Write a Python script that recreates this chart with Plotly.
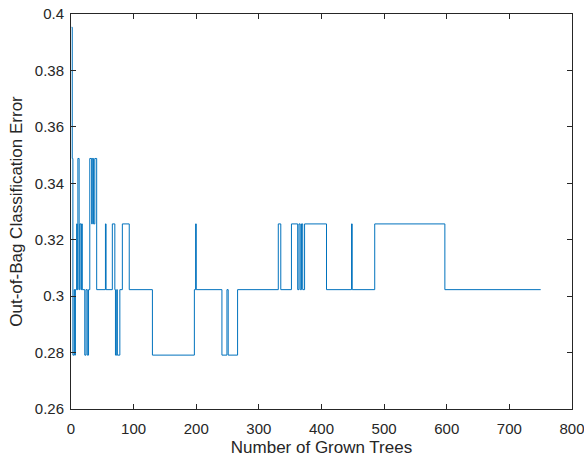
import plotly.graph_objects as go

# Breakpoints: tree index where the OOB error changes, and the new error value
change_trees = [1, 2, 3, 5, 6, 7, 9, 10, 11, 13, 14, 16, 17, 18, 22, 24, 26, 28,
                30, 33, 34, 36, 38, 41, 55, 56, 66, 70, 71, 73, 74, 78, 82, 93,
                130, 197, 199, 200, 241, 249, 251, 266, 331, 335, 352, 362, 364,
                366, 368, 370, 373, 408, 448, 449, 485, 597, 750]
error_values = [0.3953, 0.3488, 0.2791, 0.3023, 0.2791, 0.3023, 0.3256, 0.3023,
                0.3488, 0.3023, 0.3256, 0.3023, 0.3256, 0.3023, 0.2791, 0.3023,
                0.2791, 0.3023, 0.3488, 0.3256, 0.3488, 0.3256, 0.3488, 0.3023,
                0.3256, 0.3023, 0.3256, 0.3023, 0.2791, 0.3023, 0.2791, 0.3023,
                0.3256, 0.3023, 0.2791, 0.3023, 0.3256, 0.3023, 0.2791, 0.3023,
                0.2791, 0.3023, 0.3256, 0.3023, 0.3256, 0.3023, 0.3256, 0.3023,
                0.3256, 0.3023, 0.3256, 0.3023, 0.3256, 0.3023, 0.3256, 0.3023,
                0.3023]

x_ticks = [0, 100, 200, 300, 400, 500, 600, 700, 800]
y_ticks = [0.26, 0.28, 0.30, 0.32, 0.34, 0.36, 0.38, 0.40]
y_tick_labels = ["0.26", "0.28", "0.3", "0.32", "0.34", "0.36", "0.38", "0.4"]

axis_color = "#262626"
font_family = "Liberation Sans, Arial, sans-serif"

fig = go.Figure()
fig.add_trace(go.Scatter(
    x=change_trees, y=error_values, mode="lines",
    line=dict(color="#0072BD", width=1, shape="hv"),
    showlegend=False, hoverinfo="skip",
))

common = dict(
    showline=True, linecolor=axis_color, linewidth=1, mirror="ticks",
    ticks="inside", ticklen=5, tickcolor=axis_color, tickwidth=1,
    showgrid=False, zeroline=False, automargin=False,
    ticklabeloverflow="allow",
    tickfont=dict(family=font_family, size=15, color=axis_color),
)

fig.update_layout(
    width=584, height=460,
    margin=dict(l=71, r=12, t=14, b=51),
    paper_bgcolor="white", plot_bgcolor="white",
    font=dict(family=font_family, color=axis_color),
    xaxis=dict(range=[0, 800], tickvals=x_ticks,
               title=dict(text="Number of Grown Trees",
                          font=dict(family=font_family, size=17, color=axis_color),
                          standoff=5),
               ticklabelstandoff=6, **common),
    yaxis=dict(range=[0.26, 0.40], tickvals=y_ticks, ticktext=y_tick_labels,
               title=dict(text="Out-of-Bag Classification Error",
                          font=dict(family=font_family, size=17, color=axis_color),
                          standoff=7),
               ticklabelstandoff=3, **common),
)

# remove the browser's default 8px body margin so the figure fills the window
fig.write_html("out.html",
               config={"displayModeBar": False},
               post_script="document.body.style.margin='0px';"
                           "document.body.style.overflow='hidden';")
